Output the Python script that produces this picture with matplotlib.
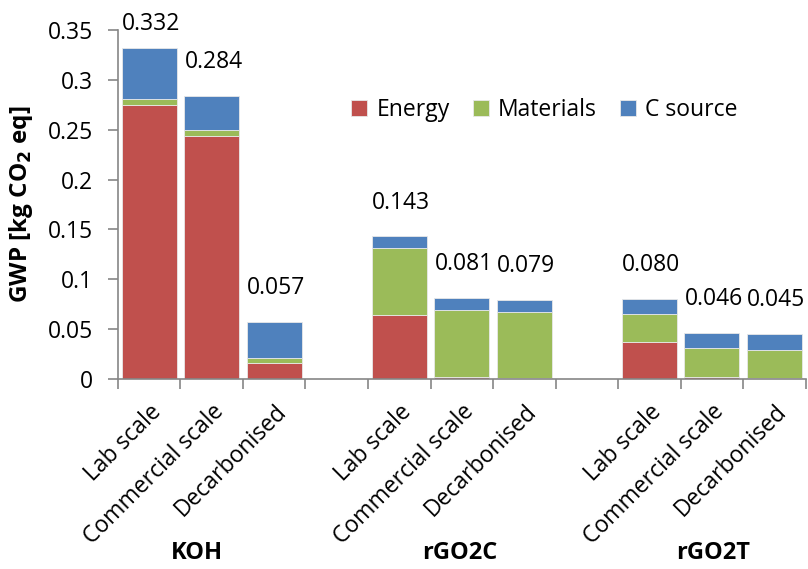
import numpy as np
import matplotlib
matplotlib.use("Agg")
import matplotlib.pyplot as plt

# Dati (kg CO2 eq)
groups = ["KOH", "rGO2C", "rGO2T"]
scenarios = ["Lab scale", "Commercial scale", "Decarbonised"]
energy = [0.275, 0.244, 0.016, 0.064, 0.002, 0.0005, 0.037, 0.002, 0.0005]
materials = [0.006, 0.006, 0.005, 0.067, 0.067, 0.067, 0.028, 0.029, 0.029]
c_source = [0.051, 0.034, 0.036, 0.012, 0.012, 0.0115, 0.015, 0.015, 0.0155]
totals = [0.332, 0.284, 0.057, 0.143, 0.081, 0.079, 0.080, 0.046, 0.045]

COL_ENERGY = "#C0504D"
COL_MAT = "#9BBB59"
COL_C = "#4F81BD"
GRAY = "#868686"
FS = 16.5

plt.rcParams["font.family"] = ["Open Sans", "DejaVu Sans"]

fig = plt.figure(figsize=(8.08, 5.69), dpi=100)
ax = fig.add_axes([0.146, 0.334, 0.851, 0.613])

# posizioni: 3 barre per gruppo con una categoria vuota in mezzo
x = []
for g in range(len(groups)):
    for s in range(len(scenarios)):
        x.append(g * 4 + s)
x = np.array(x)

w = 0.88
e = np.array(energy)
m = np.array(materials)
c = np.array(c_source)
ax.bar(x, e, w, color=COL_ENERGY, edgecolor="#e8e8e8", linewidth=0.6, label="Energy")
ax.bar(x, m, w, bottom=e, color=COL_MAT, edgecolor="#e8e8e8", linewidth=0.6, label="Materials")
ax.bar(x, c, w, bottom=e + m, color=COL_C, edgecolor="#e8e8e8", linewidth=0.6, label="C source")

# etichette dei totali (la prima resta dentro il riquadro come in Excel)
for xi, t in zip(x, totals):
    ax.text(xi + 0.03, min(t + 0.034, 0.356), f"{t:.3f}", ha="center", va="center",
            fontsize=FS, clip_on=False)

ax.set_xlim(-0.5, 10.5)
ax.set_ylim(0, 0.35)
ax.set_yticks(np.arange(0, 0.351, 0.05))
ax.set_yticklabels(["0", "0.05", "0.1", "0.15", "0.2", "0.25", "0.3", "0.35"])

# tick dell'asse x tra le categorie, etichette ruotate al centro
ax.set_xticks(np.arange(-0.5, 10.6, 1))
ax.set_xticklabels([])
ax.set_xticks(x, minor=True)
ax.set_xticklabels(scenarios * 3, minor=True, rotation=45, ha="right",
                   rotation_mode="anchor", fontsize=16.5)
ax.tick_params(axis="x", which="minor", length=0, pad=15)
ax.tick_params(axis="x", which="major", length=7, width=1.2, color=GRAY, direction="out")
ax.tick_params(axis="y", length=7, width=1.2, color=GRAY, labelsize=FS, pad=11)

for sp in ["top", "right"]:
    ax.spines[sp].set_visible(False)
for sp in ["left", "bottom"]:
    ax.spines[sp].set_color(GRAY)
    ax.spines[sp].set_linewidth(1.2)

for gx, name in zip([0.76, 4.96, 9.02], groups):
    ax.text(gx, -0.175, name, ha="center", va="center", fontsize=17,
            fontweight="bold", transform=ax.transData, clip_on=False)

ax.set_ylabel("GWP [kg CO$_\\mathbf{2}$ eq]", fontsize=17.5, fontweight="bold", labelpad=9)

ax.legend(loc="center", bbox_to_anchor=(0.62, 0.77), ncol=3, frameon=False,
          fontsize=FS, handlelength=0.7, handleheight=0.7, columnspacing=1.0,
          handletextpad=0.4)

fig.savefig("out.png", dpi=100)
